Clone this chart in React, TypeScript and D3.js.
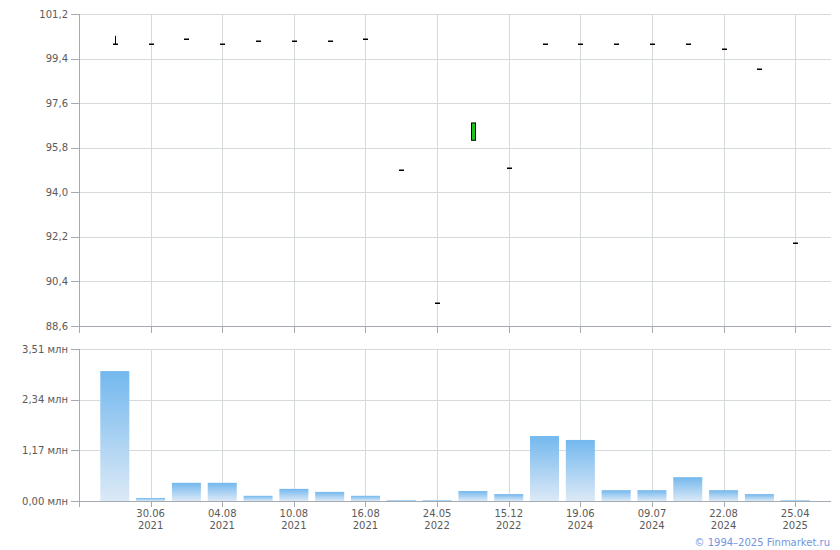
import React, { useEffect, useRef } from 'react';
import * as d3 from 'd3';

// one candle per trading day shown on the chart (index = position)
const opens = [99.99, 99.99, 100.19, 99.99, 100.1, 100.1, 100.1, 100.19, 94.9, 89.53, 96.1, 94.97, 99.99, 99.99, 99.99, 99.99, 99.99, 99.78, 98.98, 91.94];
const closes = [99.99, 99.99, 100.19, 99.99, 100.1, 100.1, 100.1, 100.19, 94.9, 89.53, 96.8, 94.97, 99.99, 99.99, 99.99, 99.99, 99.99, 99.78, 98.98, 91.94];
const highs = [100.32, 99.99, 100.19, 99.99, 100.1, 100.1, 100.1, 100.19, 94.9, 89.53, 96.8, 94.97, 99.99, 99.99, 99.99, 99.99, 99.99, 99.78, 98.98, 91.94];
const lows = [99.99, 99.99, 100.19, 99.99, 100.1, 100.1, 100.1, 100.19, 94.9, 89.53, 96.1, 94.97, 99.99, 99.99, 99.99, 99.99, 99.99, 99.78, 98.98, 91.94];
// volume, millions
const volumes = [3.0, 0.07, 0.42, 0.42, 0.12, 0.28, 0.21, 0.12, 0.02, 0.02, 0.23, 0.16, 1.5, 1.41, 0.25, 0.25, 0.55, 0.25, 0.16, 0.02];

const tickIdx = [1, 3, 5, 7, 9, 11, 13, 15, 17, 19];
const tickDays = ['30.06', '04.08', '10.08', '16.08', '24.05', '15.12', '19.06', '09.07', '22.08', '25.04'];
const tickYears = ['2021', '2021', '2021', '2021', '2022', '2022', '2024', '2024', '2024', '2025'];

const priceTicks = [88.6, 90.4, 92.2, 94.0, 95.8, 97.6, 99.4, 101.2];
const volTicks = [0, 1.17, 2.34, 3.51];

const W = 840;
const H = 550;
const left = 79;
const right = 831;

const fmt = (v: number, d: number) => v.toFixed(d).replace('.', ',');

const App: React.FC = () => {
  const svgRef = useRef<SVGSVGElement>(null);

  useEffect(() => {
    if (!svgRef.current) return;
    const svg = d3.select(svgRef.current);
    svg.selectAll('*').remove();

    const font = 'DejaVu Sans, Verdana, sans-serif';
    const gridColor = '#d5dadd';
    const axisColor = '#a5a9b1';
    const textColor = '#5a5a5a';

    const x = d3.scaleLinear().domain([-1, 20]).range([left, right]);
    const yP = d3.scaleLinear().domain([88.6, 101.2]).range([326, 14]);
    const yV = d3.scaleLinear().domain([0, 3.51]).range([501, 349]);

    const defs = svg.append('defs');
    const grad = defs.append('linearGradient')
      .attr('id', 'volGrad')
      .attr('x1', 0).attr('y1', 0).attr('x2', 0).attr('y2', 1);
    grad.append('stop').attr('offset', '0%').attr('stop-color', '#73b8ee');
    grad.append('stop').attr('offset', '100%').attr('stop-color', '#dce9f6');

    // --- price panel ---
    const gp = svg.append('g');
    gp.selectAll('.hgrid')
      .data(priceTicks)
      .enter()
      .append('line')
      .attr('x1', left).attr('x2', right)
      .attr('y1', d => Math.round(yP(d)) + 0.5)
      .attr('y2', d => Math.round(yP(d)) + 0.5)
      .attr('stroke', gridColor);
    gp.selectAll('.vgrid')
      .data(tickIdx)
      .enter()
      .append('line')
      .attr('x1', d => Math.round(x(d)) + 0.5)
      .attr('x2', d => Math.round(x(d)) + 0.5)
      .attr('y1', 14).attr('y2', 326)
      .attr('stroke', gridColor);

    // axes
    gp.append('line').attr('x1', left + 0.5).attr('x2', left + 0.5).attr('y1', 14).attr('y2', 333).attr('stroke', axisColor);
    gp.append('line').attr('x1', left).attr('x2', right).attr('y1', 326.5).attr('y2', 326.5).attr('stroke', axisColor);
    gp.selectAll('.ytick')
      .data(priceTicks)
      .enter()
      .append('line')
      .attr('x1', 71).attr('x2', left)
      .attr('y1', d => Math.round(yP(d)) + 0.5)
      .attr('y2', d => Math.round(yP(d)) + 0.5)
      .attr('stroke', axisColor);
    gp.selectAll('.xtick')
      .data(tickIdx)
      .enter()
      .append('line')
      .attr('x1', d => Math.round(x(d)) + 0.5)
      .attr('x2', d => Math.round(x(d)) + 0.5)
      .attr('y1', 326).attr('y2', 333)
      .attr('stroke', axisColor);
    gp.selectAll('.ylab')
      .data(priceTicks)
      .enter()
      .append('text')
      .attr('x', 68)
      .attr('y', d => yP(d) + 3.5)
      .attr('text-anchor', 'end')
      .attr('font-family', font)
      .attr('font-size', '10px')
      .attr('fill', textColor)
      .text(d => fmt(d, 1));

    // candles
    const idx = d3.range(opens.length);
    idx.forEach(i => {
      const cx = Math.round(x(i)) + 0.5;
      const o = opens[i], c = closes[i];
      if (highs[i] > Math.max(o, c)) {
        gp.append('line')
          .attr('x1', cx).attr('x2', cx)
          .attr('y1', yP(highs[i])).attr('y2', yP(Math.max(o, c)))
          .attr('stroke', '#000');
      }
      if (lows[i] < Math.min(o, c)) {
        gp.append('line')
          .attr('x1', cx).attr('x2', cx)
          .attr('y1', yP(Math.min(o, c))).attr('y2', yP(lows[i]))
          .attr('stroke', '#000');
      }
      if (Math.abs(o - c) < 0.01) {
        gp.append('rect')
          .attr('x', cx - 2.5).attr('width', 5)
          .attr('y', Math.round(yP(c)) - 0.5).attr('height', 1.5)
          .attr('fill', '#000');
      } else {
        const top = yP(Math.max(o, c));
        const bot = yP(Math.min(o, c));
        gp.append('rect')
          .attr('x', cx - 2).attr('width', 4)
          .attr('y', top).attr('height', bot - top)
          .attr('fill', c > o ? '#1ec41e' : '#e02020')
          .attr('stroke', '#000')
          .attr('stroke-width', 1);
      }
    });

    // --- volume panel ---
    const gv = svg.append('g');
    gv.selectAll('.hgrid')
      .data(volTicks)
      .enter()
      .append('line')
      .attr('x1', left).attr('x2', right)
      .attr('y1', d => Math.round(yV(d)) + 0.5)
      .attr('y2', d => Math.round(yV(d)) + 0.5)
      .attr('stroke', gridColor);
    gv.selectAll('.vgrid')
      .data(tickIdx)
      .enter()
      .append('line')
      .attr('x1', d => Math.round(x(d)) + 0.5)
      .attr('x2', d => Math.round(x(d)) + 0.5)
      .attr('y1', 349).attr('y2', 501)
      .attr('stroke', gridColor);

    const bw = 29;
    gv.selectAll('.bar')
      .data(volumes)
      .enter()
      .append('rect')
      .attr('x', (_d, i) => x(i) - bw / 2)
      .attr('width', bw)
      .attr('y', d => yV(d))
      .attr('height', d => 501 - yV(d))
      .attr('fill', 'url(#volGrad)');

    gv.append('line').attr('x1', left + 0.5).attr('x2', left + 0.5).attr('y1', 349).attr('y2', 507).attr('stroke', axisColor);
    gv.append('line').attr('x1', left).attr('x2', right).attr('y1', 501.5).attr('y2', 501.5).attr('stroke', axisColor);
    gv.selectAll('.ytick')
      .data(volTicks)
      .enter()
      .append('line')
      .attr('x1', 71).attr('x2', left)
      .attr('y1', d => Math.round(yV(d)) + 0.5)
      .attr('y2', d => Math.round(yV(d)) + 0.5)
      .attr('stroke', axisColor);
    gv.selectAll('.xtick')
      .data(tickIdx)
      .enter()
      .append('line')
      .attr('x1', d => Math.round(x(d)) + 0.5)
      .attr('x2', d => Math.round(x(d)) + 0.5)
      .attr('y1', 501).attr('y2', 507)
      .attr('stroke', axisColor);
    gv.selectAll('.ylab')
      .data(volTicks)
      .enter()
      .append('text')
      .attr('x', 68)
      .attr('y', d => yV(d) + 3.5)
      .attr('text-anchor', 'end')
      .attr('font-family', font)
      .attr('font-size', '10px')
      .attr('fill', textColor)
      .text(d => `${fmt(d, 2)} млн`);

    const xl = gv.selectAll('.xlab')
      .data(tickIdx)
      .enter()
      .append('text')
      .attr('text-anchor', 'middle')
      .attr('font-family', font)
      .attr('font-size', '10px')
      .attr('fill', textColor);
    xl.append('tspan')
      .attr('x', d => x(d))
      .attr('y', 517)
      .text((_d, i) => tickDays[i]);
    xl.append('tspan')
      .attr('x', d => x(d))
      .attr('y', 529)
      .text((_d, i) => tickYears[i]);

    svg.append('text')
      .attr('x', 830)
      .attr('y', 546)
      .attr('text-anchor', 'end')
      .attr('font-family', font)
      .attr('font-size', '10px')
      .attr('fill', '#7394df')
      .text('© 1994–2025 Finmarket.ru');
  }, []);

  return (
    <svg
      ref={svgRef}
      width={W}
      height={H}
      style={{ position: 'absolute', left: 0, top: 0, background: '#fff' }}
    ></svg>
  );
};

export default App;
